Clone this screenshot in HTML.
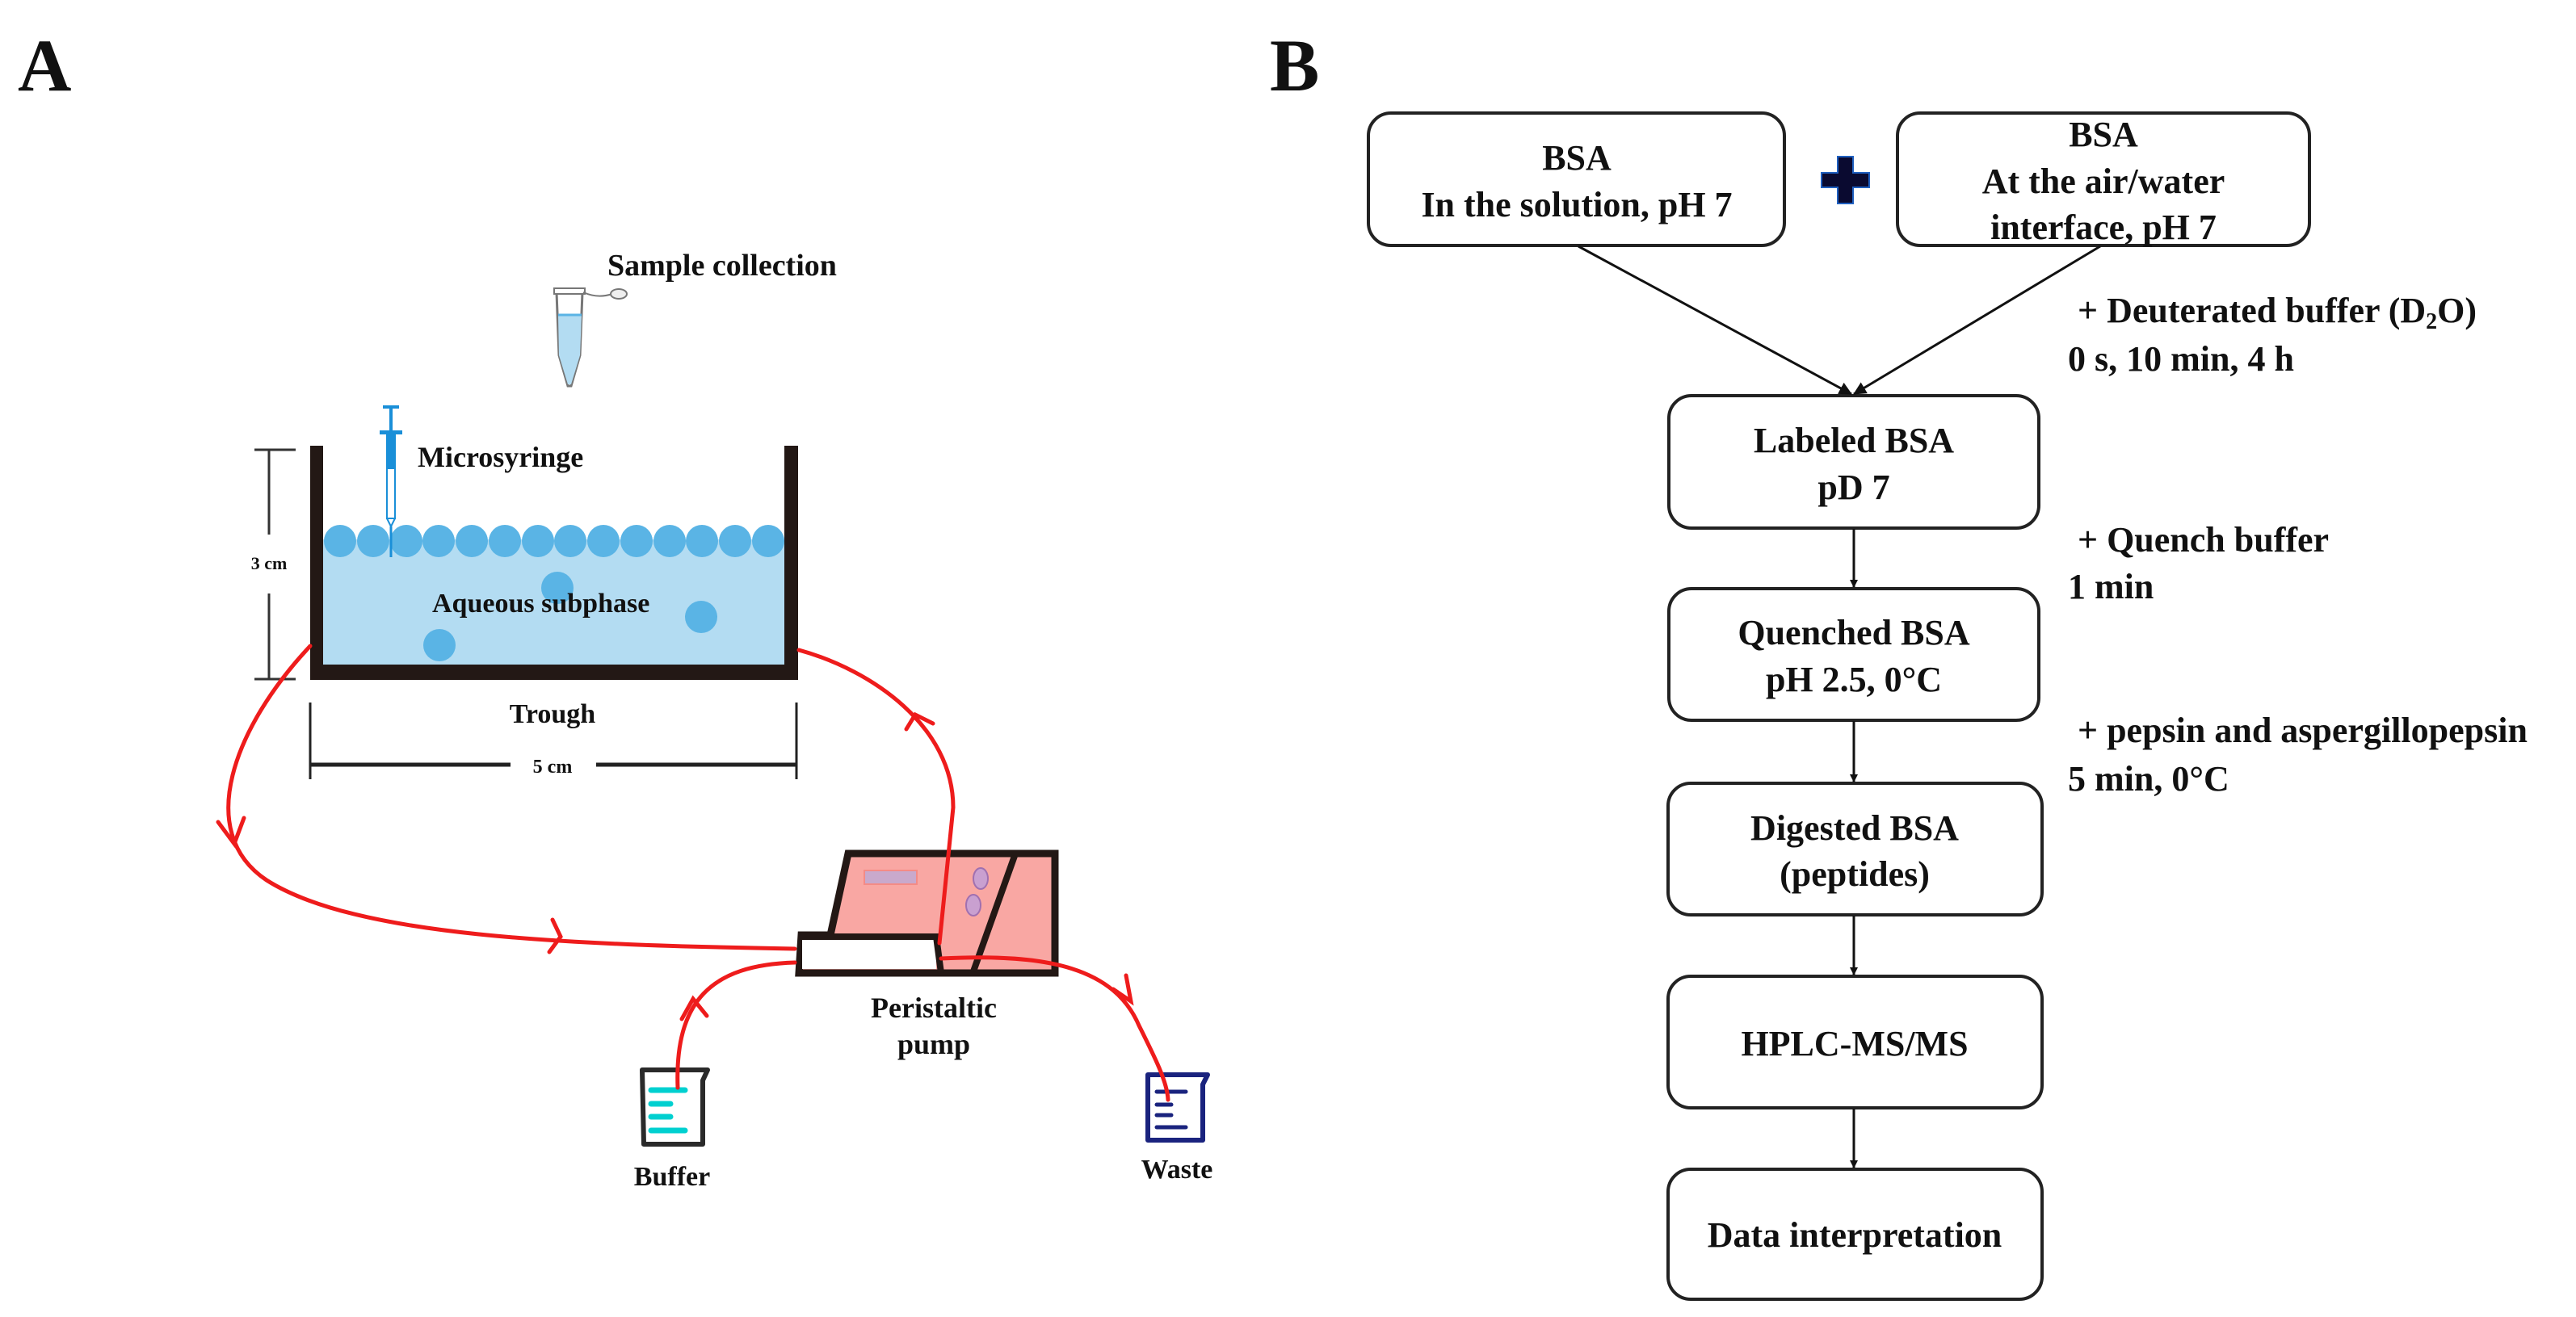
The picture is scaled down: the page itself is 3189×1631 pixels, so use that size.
<!DOCTYPE html>
<html><head><meta charset="utf-8"><style>
html,body{margin:0;padding:0;background:#fff;}
svg{display:block;}
text{font-family:"Liberation Serif",serif;font-weight:bold;fill:#111;}
</style></head><body>
<svg width="3189" height="1631" viewBox="0 0 3189 1631" xmlns="http://www.w3.org/2000/svg">
<defs>
<marker id="ah" markerWidth="10" markerHeight="10" refX="9" refY="5" orient="auto" markerUnits="userSpaceOnUse">
<path d="M0,0 L10,5 L0,10 Z" fill="#111"/>
</marker>
<marker id="ah2" markerWidth="16" markerHeight="16" refX="15" refY="8" orient="auto" markerUnits="userSpaceOnUse">
<path d="M0,0 L16,8 L0,16 Z" fill="#111"/>
</marker>
</defs>

<!-- Panel labels -->
<text x="22" y="112" font-size="92">A</text>
<text x="1572" y="112" font-size="92">B</text>

<!-- ===== Panel A ===== -->
<!-- Sample tube -->
<path d="M689,362 L721,362 L718,440 L707,478 L703,478 L692,440 Z" fill="#fff" stroke="#777" stroke-width="3"/>
<path d="M691,390 L720,390 L718,440 L707,476 L703,476 L692,440 Z" fill="#b3dcf2"/>
<line x1="691" y1="390" x2="720" y2="390" stroke="#5ab4e5" stroke-width="3"/>
<rect x="686" y="357" width="38" height="7" fill="#fff" stroke="#777" stroke-width="2"/>
<path d="M722,362 Q740,370 758,364" fill="none" stroke="#777" stroke-width="2"/>
<ellipse cx="766" cy="364" rx="10" ry="6" fill="#eee" stroke="#777" stroke-width="2"/>
<text x="752" y="341" font-size="38">Sample collection</text>

<!-- Water -->
<rect x="400" y="668" width="571" height="156" fill="#b3dcf2"/>
<g fill="#5ab4e5">
<circle cx="421" cy="670" r="20"/><circle cx="462" cy="670" r="20"/><circle cx="503" cy="670" r="20"/>
<circle cx="543" cy="670" r="20"/><circle cx="584" cy="670" r="20"/><circle cx="625" cy="670" r="20"/>
<circle cx="666" cy="670" r="20"/><circle cx="706" cy="670" r="20"/><circle cx="747" cy="670" r="20"/>
<circle cx="788" cy="670" r="20"/><circle cx="829" cy="670" r="20"/><circle cx="869" cy="670" r="20"/>
<circle cx="910" cy="670" r="20"/><circle cx="951" cy="670" r="20"/>
<circle cx="690" cy="728" r="20"/><circle cx="868" cy="764" r="20"/><circle cx="544" cy="799" r="20"/>
</g>
<!-- Trough -->
<path d="M384,552 L400,552 L400,823 L971,823 L971,552 L988,552 L988,842 L384,842 Z" fill="#231815"/>
<text x="535" y="758" font-size="34">Aqueous subphase</text>

<!-- Syringe -->
<g fill="#1a8fd8" stroke="#1a8fd8">
<rect x="474" y="502" width="20" height="4" stroke="none"/>
<rect x="482" y="504" width="4" height="30" stroke="none"/>
<rect x="470" y="533" width="28" height="5" stroke="none"/>
<rect x="478" y="536" width="12" height="72" stroke="none"/>
<rect x="479" y="580" width="10" height="62" fill="#fff" stroke-width="2"/>
<path d="M479,642 L484,652 L489,642" fill="none" stroke-width="2"/>
<line x1="484" y1="652" x2="484" y2="690" stroke-width="3"/>
</g>
<text x="517" y="578" font-size="36">Microsyringe</text>

<!-- 3 cm -->
<g stroke="#333" stroke-width="3">
<line x1="315" y1="557" x2="366" y2="557"/>
<line x1="315" y1="841" x2="366" y2="841"/>
<line x1="333" y1="557" x2="333" y2="662"/>
<line x1="333" y1="735" x2="333" y2="841"/>
</g>
<text x="333" y="705" font-size="22" text-anchor="middle">3 cm</text>

<!-- Trough / 5 cm -->
<text x="684" y="895" font-size="34" text-anchor="middle">Trough</text>
<g stroke="#222" stroke-width="3">
<line x1="384" y1="870" x2="384" y2="965"/>
<line x1="986" y1="870" x2="986" y2="965"/>
<line x1="384" y1="947" x2="632" y2="947" stroke-width="5"/>
<line x1="738" y1="947" x2="986" y2="947" stroke-width="5"/>
</g>
<text x="684" y="957" font-size="24" text-anchor="middle">5 cm</text>

<!-- Pump -->
<path d="M1050,1057 L1306,1057 L1306,1205 L989,1205 L992,1158 L1028,1158 Z" fill="#f9a7a3" stroke="#231815" stroke-width="9" stroke-linejoin="miter"/>
<rect x="993" y="1162" width="166" height="38" fill="#fff"/>
<path d="M993,1160 L1159,1160 L1165,1205" fill="none" stroke="#231815" stroke-width="8"/>
<line x1="1256" y1="1060" x2="1205" y2="1203" stroke="#231815" stroke-width="8"/>
<rect x="1070" y="1078" width="65" height="17" fill="#c9a9cc" stroke="#f48b86" stroke-width="2"/>
<ellipse cx="1214" cy="1088" rx="9" ry="13" fill="#c9a0d0" stroke="#a070b0" stroke-width="2"/>
<ellipse cx="1205" cy="1121" rx="9" ry="13" fill="#c9a0d0" stroke="#a070b0" stroke-width="2"/>
<text x="1156" y="1260" font-size="36" text-anchor="middle">Peristaltic</text>
<text x="1156" y="1305" font-size="36" text-anchor="middle">pump</text>

<!-- Beakers -->
<path d="M795,1325 L876,1325 L870,1338 L870,1417 L797,1417 Z" fill="#fff" stroke="#2a2a2a" stroke-width="6" stroke-linejoin="round"/>
<g stroke="#00d0d0" stroke-width="7" stroke-linecap="round">
<line x1="806" y1="1350" x2="848" y2="1350"/><line x1="806" y1="1367" x2="830" y2="1367"/>
<line x1="806" y1="1383" x2="830" y2="1383"/><line x1="806" y1="1400" x2="848" y2="1400"/>
</g>
<text x="832" y="1468" font-size="34" text-anchor="middle">Buffer</text>
<path d="M1421,1331 L1495,1331 L1489,1343 L1489,1412 L1421,1412 Z" fill="#fff" stroke="#1a237e" stroke-width="6" stroke-linejoin="round"/>
<g stroke="#1a237e" stroke-width="5" stroke-linecap="round">
<line x1="1432" y1="1352" x2="1468" y2="1352"/><line x1="1432" y1="1368" x2="1450" y2="1368"/>
<line x1="1432" y1="1381" x2="1450" y2="1381"/><line x1="1432" y1="1396" x2="1468" y2="1396"/>
</g>
<text x="1457" y="1459" font-size="34" text-anchor="middle">Waste</text>

<!-- Red tubes -->
<g fill="none" stroke="#ee1c1c" stroke-width="5" stroke-linecap="round">
<path d="M384,800 C290,900 240,1030 330,1090 C440,1160 700,1170 984,1175"/>
<path d="M989,805 C1080,830 1180,900 1180,1000 L1163,1168"/>
<path d="M839,1347 C835,1240 880,1195 984,1192"/>
<path d="M1165,1187 C1300,1180 1380,1200 1410,1270 C1430,1310 1445,1340 1446,1362"/>
<!-- chevrons -->
<path d="M270,1018 L290,1045 L302,1013"/>
<path d="M684,1139 L694,1160 L680,1179"/>
<path d="M1122,903 L1133,885 L1155,896"/>
<path d="M844,1262 L858,1237 L875,1258"/>
<path d="M1378,1225 L1400,1240 L1394,1208"/>
</g>

<!-- ===== Panel B ===== -->
<g fill="#fff" stroke="#222" stroke-width="4">
<rect x="1694" y="140" width="515" height="164" rx="28"/>
<rect x="2349" y="140" width="510" height="164" rx="28"/>
<rect x="2066" y="490" width="458" height="164" rx="28"/>
<rect x="2066" y="729" width="458" height="163" rx="28"/>
<rect x="2065" y="970" width="463" height="163" rx="28"/>
<rect x="2065" y="1209" width="463" height="163" rx="28"/>
<rect x="2065" y="1448" width="463" height="161" rx="28"/>
</g>
<!-- plus -->
<path d="M2275,194 L2294,194 L2294,214 L2314,214 L2314,232 L2294,232 L2294,252 L2275,252 L2275,232 L2255,232 L2255,214 L2275,214 Z" fill="#0a0a30" stroke="#2060c0" stroke-width="2"/>

<!-- arrows -->
<g stroke="#111" stroke-width="3" fill="none">
<line x1="1954" y1="305" x2="2292" y2="488" marker-end="url(#ah2)"/>
<line x1="2600" y1="305" x2="2295" y2="488" marker-end="url(#ah2)"/>
<line x1="2295" y1="655" x2="2295" y2="727" marker-end="url(#ah)"/>
<line x1="2295" y1="893" x2="2295" y2="968" marker-end="url(#ah)"/>
<line x1="2295" y1="1134" x2="2295" y2="1207" marker-end="url(#ah)"/>
<line x1="2295" y1="1373" x2="2295" y2="1446" marker-end="url(#ah)"/>
</g>

<g font-size="44" text-anchor="middle">
<text x="1952" y="210">BSA</text>
<text x="1952" y="268">In the solution, pH 7</text>
<text x="2604" y="181">BSA</text>
<text x="2604" y="239">At the air/water</text>
<text x="2604" y="296">interface, pH 7</text>
<text x="2295" y="560">Labeled BSA</text>
<text x="2295" y="618">pD 7</text>
<text x="2295" y="798">Quenched BSA</text>
<text x="2295" y="856">pH 2.5, 0°C</text>
<text x="2296" y="1040">Digested BSA</text>
<text x="2296" y="1097">(peptides)</text>
<text x="2296" y="1307">HPLC-MS/MS</text>
<text x="2296" y="1544">Data interpretation</text>
</g>
<g font-size="44">
<text x="2572" y="399">+ Deuterated buffer (D<tspan font-size="28" dy="8">2</tspan><tspan dy="-8">O)</tspan></text>
<text x="2560" y="459">0 s, 10 min, 4 h</text>
<text x="2572" y="683">+ Quench buffer</text>
<text x="2560" y="741">1 min</text>
<text x="2572" y="919">+ pepsin and aspergillopepsin</text>
<text x="2560" y="979">5 min, 0°C</text>
</g>
</svg>
</body></html>
